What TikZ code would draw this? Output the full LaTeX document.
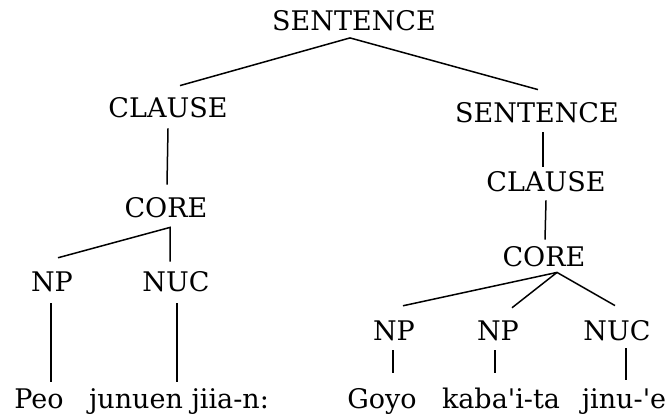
\documentclass[tikz,border=0pt]{standalone}
\usepackage{fontspec}
\setmainfont{DejaVu Serif}
\usetikzlibrary{calc}
\begin{document}
\begin{tikzpicture}[x=1pt,y=-1pt,
  lab/.style={inner sep=0pt, font=\fontsize{27}{30}\selectfont},
  word/.style={lab, anchor=base},
  link/.style={draw=black, line width=1.5pt}]
\useasboundingbox (0,0) rectangle (667,418);
\fill[white] (0,0) rectangle (667,418);

% category labels
\node[lab] (s0)   at (354,20.5) {SENTENCE};
\node[lab] (cl1)  at (168,108)  {CLAUSE};
\node[lab] (s1)   at (537,113)  {SENTENCE};
\node[lab] (co1)  at (166,208)  {CORE};
\node[lab] (cl2)  at (546,182)  {CLAUSE};
\node[lab] (co2)  at (544,257)  {CORE};
\node[lab] (np1)  at (52,282)   {NP};
\node[lab] (nuc1) at (176,282)  {NUC};
\node[lab] (np2)  at (394,331)  {NP};
\node[lab] (np3)  at (498,331)  {NP};
\node[lab] (nuc2) at (617,331)  {NUC};

% words
\node[word] (w1) at (39,408)  {Peo};
\node[word] (w2) at (179,408) {junuen jiia-n:};
\node[word] (w3) at (382,408) {Goyo};
\node[word] (w4) at (501,408) {kaba\textquotesingle i-ta};
\node[word] (w5) at (624,408) {jinu-\textquotesingle e};

% branching points
\coordinate (s0f)  at ($(s0.south)+(-4,7)$);
\coordinate (co1f) at ($(co1.south)+(4,9)$);
\coordinate (co2f) at ($(co2.south)+(13,5)$);

% top sentence
\draw[link] ($(cl1.north)+(12,-12)$) -- (s0f) -- ($(s1.north)+(1,-13)$);
% left branch
\draw[link] ($(cl1.south)+(0,10)$) -- ($(co1.north)+(1,-13)$);
\draw[link] ($(np1.north)+(6,-14)$) -- (co1f) -- ($(nuc1.north)+(-6,-10)$);
\draw[link] ($(np1.south)+(-1,11)$) -- ($(np1.south |- w1.north)+(-1,-6)$);
\draw[link] ($(nuc1.south)+(1,11)$) -- ($(nuc1.south |- w2.north)+(1,-6)$);
% right branch
\draw[link] ($(s1.south)+(6,9)$) -- ($(cl2.north)+(-3,-5)$);
\draw[link] ($(cl2.south)+(0,8)$) -- ($(co2.north)+(1,-7)$);
\draw[link] ($(np2.north)+(9,-15)$) -- (co2f) -- ($(nuc2.north)+(-2,-15)$);
\draw[link] (co2f) -- ($(np3.north)+(14,-13)$);
\draw[link] ($(np2.south)+(-1,9)$) -- ($(np2.south |- w3.north)+(-1,-15)$);
\draw[link] ($(np3.south)+(-3,9)$) -- ($(np3.south |- w4.north)+(-3,-14)$);
\draw[link] ($(nuc2.south)+(9,7)$) -- ($(nuc2.south |- w5.north)+(9,-8)$);
\end{tikzpicture}
\end{document}
